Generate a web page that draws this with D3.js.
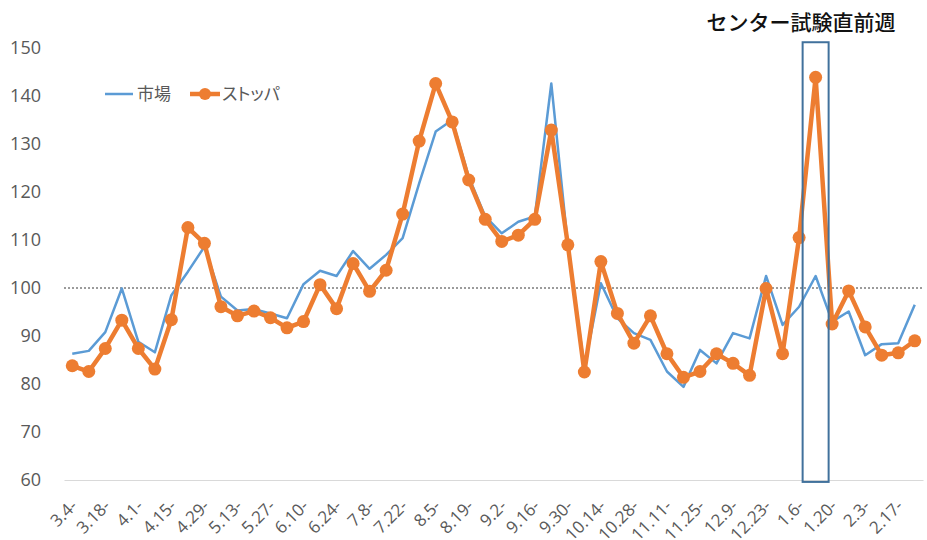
<!DOCTYPE html>
<html>
<head>
<meta charset="utf-8">
<script src="https://cdn.jsdelivr.net/npm/d3@7"></script>
<style>
  body { margin: 0; background: #fff; }
  svg { display: block; }
  text { font-family: "Noto Sans", "Noto Sans CJK JP", sans-serif; }
</style>
</head>
<body>
<div id="chart"></div>
<script>
const weeks = ["3.4-", "3.11-", "3.18-", "3.25-", "4.1-", "4.8-", "4.15-", "4.22-", "4.29-", "5.6-",
  "5.13-", "5.20-", "5.27-", "6.3-", "6.10-", "6.17-", "6.24-", "7.1-", "7.8-", "7.15-",
  "7.22-", "7.29-", "8.5-", "8.12-", "8.19-", "8.26-", "9.2-", "9.9-", "9.16-", "9.23-",
  "9.30-", "10.7-", "10.14-", "10.21-", "10.28-", "11.4-", "11.11-", "11.18-", "11.25-", "12.2-",
  "12.9-", "12.16-", "12.23-", "12.30-", "1.6-", "1.13-", "1.20-", "1.27-", "2.3-", "2.10-",
  "2.17-", "2.24-"];
const market = [86.3, 86.9, 90.8, 99.9, 88.8, 86.6, 98.5, 103.4, 108.6, 98.2,
  95.3, 95.6, 94.7, 93.7, 100.8, 103.6, 102.5, 107.7, 104.0, 106.9,
  110.4, 121.8, 132.6, 135.0, 123.2, 114.9, 111.4, 113.8, 114.9, 142.6,
  109.0, 83.5, 101.0, 93.7, 90.6, 89.2, 82.6, 79.4, 87.1, 84.3,
  90.6, 89.5, 102.5, 92.3, 96.1, 102.5, 93.0, 95.1, 86.0, 88.3,
  88.5, 96.5];
const stopper = [83.8, 82.6, 87.4, 93.3, 87.4, 83.1, 93.4, 112.6, 109.3, 96.1,
  94.2, 95.2, 93.8, 91.7, 93.0, 100.7, 95.7, 105.1, 99.3, 103.7,
  115.4, 130.6, 142.6, 134.6, 122.5, 114.3, 109.7, 111.0, 114.3, 132.9,
  109.0, 82.5, 105.5, 94.7, 88.5, 94.2, 86.3, 81.4, 82.6, 86.3,
  84.3, 81.8, 99.9, 86.3, 110.5, 143.9, 92.5, 99.4, 91.9, 86.0,
  86.5, 89.0];
const yTicks = [60, 70, 80, 90, 100, 110, 120, 130, 140, 150];
const seriesNames = ["市場", "ストッパ"];
const baseline = 100;
const highlightWeek = "1.13-";
const highlightLabel = "センター試験直前週";

const fullWidth = 927;
const fullHeight = 540;
const blue = "#5B9BD5";
const orange = "#ED7D31";

const svg = d3.select('#chart')
  .append('svg')
  .attr('width', fullWidth)
  .attr('height', fullHeight);

const xScale = d3.scaleBand()
  .domain(weeks)
  .range([64, 923]);
const bw = xScale.bandwidth();
const cx = d => xScale(d) + bw / 2;

const yScale = d3.scaleLinear()
  .domain([60, 150])
  .range([480, 48]);

// y labels (no axis line)
const yAxis = d3.axisLeft(yScale)
  .tickValues(yTicks)
  .tickSize(0)
  .tickPadding(0);
const gy = svg.append('g')
  .attr('transform', 'translate(41, 0)')
  .call(yAxis);
gy.select('.domain').remove();
gy.selectAll('text')
  .attr('fill', '#595959')
  .style('font-size', '18px')
  .style('font-family', '"Open Sans", sans-serif');

// x axis
const xAxis = d3.axisBottom(xScale)
  .tickValues(weeks.filter((w, i) => i % 2 == 0))
  .tickSize(0)
  .tickSizeOuter(0);
const gx = svg.append('g')
  .attr('transform', `translate(0, ${yScale(60)})`)
  .call(xAxis);
gx.select('.domain').attr('stroke', '#D9D9D9').attr('stroke-width', 1.2);
gx.selectAll('text')
  .attr('x', 0)
  .attr('y', 0)
  .attr('dy', 0)
  .attr('transform', 'translate(6, 27) rotate(-45)')
  .attr('text-anchor', 'end')
  .attr('fill', '#595959')
  .style('font-size', '17px')
  .style('font-family', '"Open Sans", sans-serif');

// dotted 100 line
svg.append('line')
  .attr('x1', 64)
  .attr('x2', 923)
  .attr('y1', yScale(baseline))
  .attr('y2', yScale(baseline))
  .attr('stroke', '#222')
  .attr('stroke-width', 0.9)
  .attr('stroke-dasharray', '2,2');

const line = d3.line()
  .x((d, i) => cx(weeks[i]))
  .y(d => yScale(d));

svg.append('path')
  .datum(market)
  .attr('d', line)
  .attr('fill', 'none')
  .attr('stroke', blue)
  .attr('stroke-width', 2.5)
  .attr('stroke-linejoin', 'round');

svg.append('path')
  .datum(stopper)
  .attr('d', line)
  .attr('fill', 'none')
  .attr('stroke', orange)
  .attr('stroke-width', 4.5)
  .attr('stroke-linejoin', 'round');

svg.append('g')
  .selectAll('circle')
  .data(stopper)
  .join('circle')
  .attr('cx', (d, i) => cx(weeks[i]))
  .attr('cy', d => yScale(d))
  .attr('r', 6.5)
  .attr('fill', orange);

// highlight box
svg.append('rect')
  .attr('x', cx(highlightWeek) - 13)
  .attr('y', yScale(151.2))
  .attr('width', 26)
  .attr('height', yScale(59.6) - yScale(151.2))
  .attr('fill', 'none')
  .attr('stroke', '#41719C')
  .attr('stroke-width', 2);

svg.append('text')
  .attr('x', 801)
  .attr('y', 30)
  .attr('text-anchor', 'middle')
  .attr('fill', '#111')
  .style('font-family', '"Noto Sans CJK JP", sans-serif')
  .style('font-size', '21px')
  .style('font-weight', '500')
  .text(highlightLabel);

// legend
const legend = svg.append('g').attr('transform', 'translate(105, 94)');
legend.append('line')
  .attr('x1', 0).attr('x2', 28)
  .attr('stroke', blue).attr('stroke-width', 2.5);
legend.append('text')
  .attr('x', 32).attr('y', 6)
  .attr('fill', '#595959')
  .style('font-family', '"Noto Sans CJK JP", sans-serif')
  .style('font-size', '17px')
  .text(seriesNames[0]);
legend.append('line')
  .attr('x1', 85).attr('x2', 115)
  .attr('stroke', orange).attr('stroke-width', 4.5);
legend.append('circle')
  .attr('cx', 100).attr('r', 6).attr('fill', orange);
legend.append('text')
  .attr('x', 117).attr('y', 6)
  .attr('fill', '#595959')
  .style('font-family', '"Noto Sans CJK JP", sans-serif')
  .style('font-size', '17px')
  .style('font-feature-settings', '"palt"')
  .text(seriesNames[1]);
</script>
</body>
</html>
